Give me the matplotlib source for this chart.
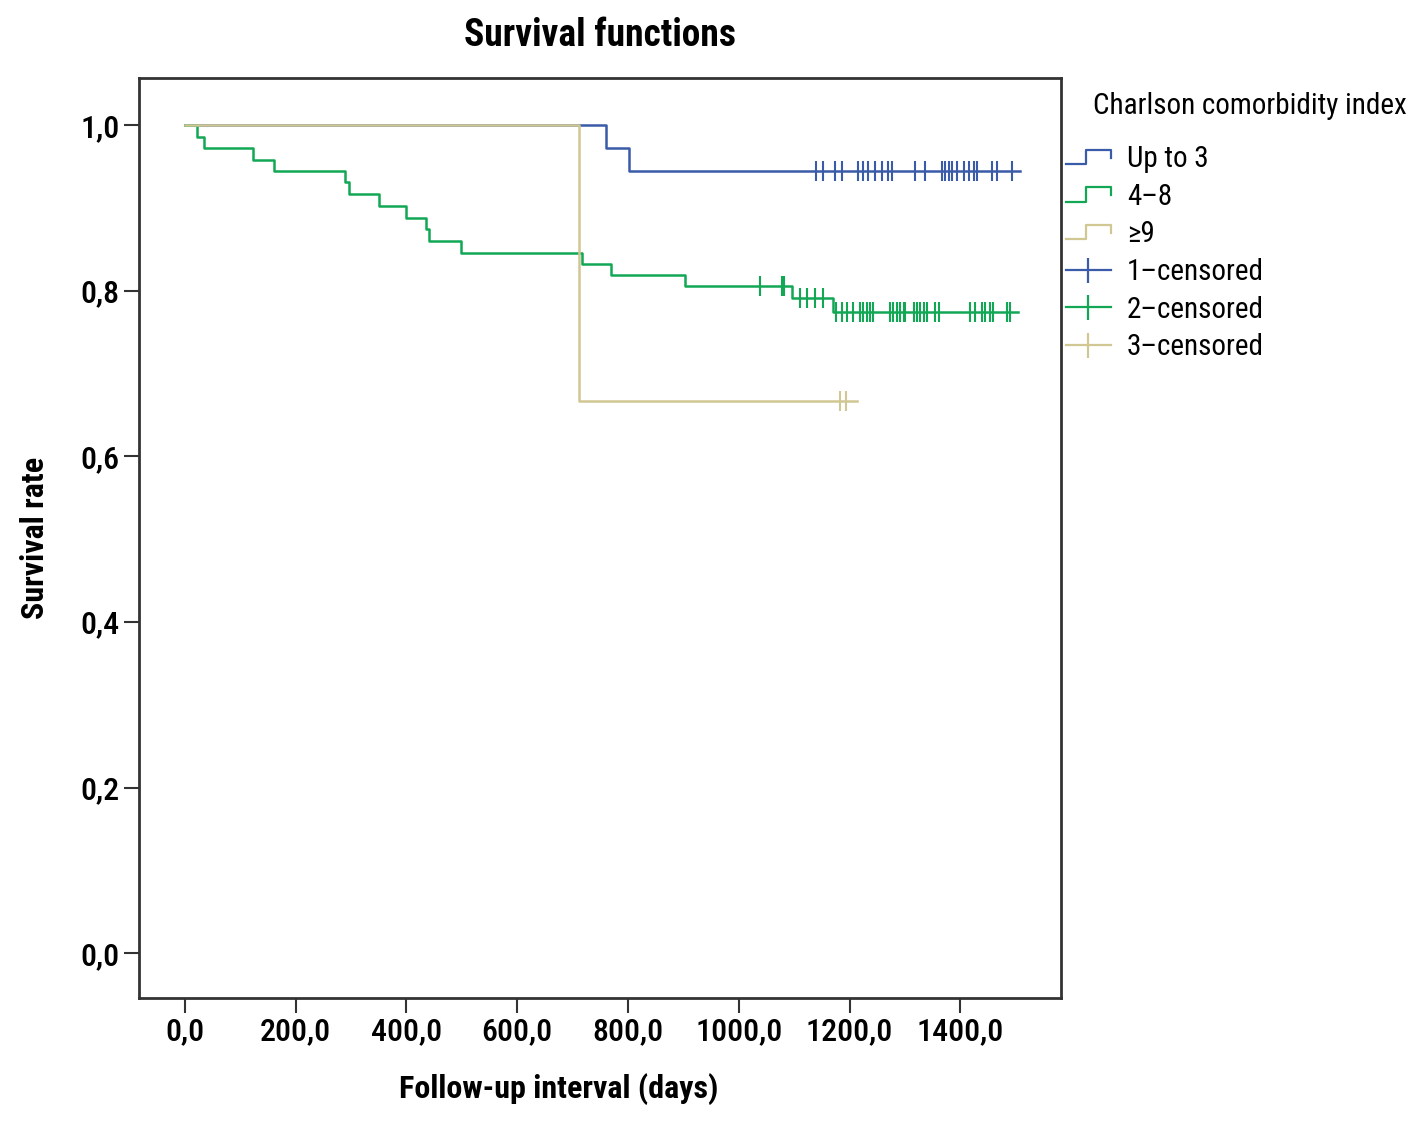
import matplotlib
matplotlib.use("Agg")
import matplotlib.pyplot as plt
from matplotlib.legend_handler import HandlerBase
from matplotlib.lines import Line2D
from matplotlib.ticker import FuncFormatter

# Kaplan-Meier steps: (day of event, survival after the event)
low_times = [713, 760, 802]
low_surv = [1.0, 0.973, 0.945]
low_end = 1508
low_cens = [1140, 1153, 1174, 1186, 1216, 1225, 1234, 1246, 1258, 1270, 1276,
            1319, 1337, 1367, 1373, 1379, 1385, 1394, 1406, 1415, 1424, 1430,
            1457, 1466, 1493]

mid_times = [22, 34, 123, 161, 289, 297, 350, 399, 436, 440, 498, 717, 769,
             903, 1097, 1170]
mid_surv = [0.986, 0.972, 0.958, 0.945, 0.932, 0.917, 0.902, 0.888, 0.875,
            0.860, 0.846, 0.833, 0.819, 0.806, 0.791, 0.775]
mid_end = 1505
mid_cens = [1039, 1078, 1082, 1111, 1123, 1138, 1153, 1176, 1186, 1196, 1207,
            1219, 1225, 1231, 1237, 1243, 1273, 1279, 1285, 1292, 1298, 1301,
            1316, 1322, 1328, 1334, 1340, 1355, 1361, 1418, 1427, 1439, 1445,
            1454, 1460, 1484, 1490]

high_times = [711]
high_surv = [0.667]
high_end = 1213
high_cens = [1183, 1194]

groups = ["Up to 3", "4\u20138", "\u22659"]
cens_labels = ["1\u2013censored", "2\u2013censored", "3\u2013censored"]
colors = ["#3a5ba8", "#12a755", "#d0c792"]

font = ["Roboto Condensed", "DejaVu Sans"]
plt.rcParams["font.family"] = font


def km_path(times, surv, end):
    xs, ys = [0.0], [1.0]
    cur = 1.0
    for t, s in zip(times, surv):
        xs += [t, t]
        ys += [cur, s]
        cur = s
    xs.append(end)
    ys.append(cur)
    return xs, ys


def level_at(times, surv, t):
    cur = 1.0
    for tt, s in zip(times, surv):
        if tt <= t:
            cur = s
    return cur


class StepHandler(HandlerBase):
    # little step symbol like the SPSS legend
    def create_artists(self, legend, orig_handle, xdescent, ydescent,
                       width, height, fontsize, trans):
        x0, y0 = -xdescent, -ydescent
        w, h = width, height
        xs = [x0, x0 + 0.45 * w, x0 + 0.45 * w, x0 + w, x0 + w]
        ys = [y0 + 0.15 * h, y0 + 0.15 * h, y0 + 0.85 * h, y0 + 0.85 * h, y0 + 0.45 * h]
        ln = Line2D(xs, ys, color=orig_handle.get_color(), lw=1.6, transform=trans)
        return [ln]


fig = plt.figure(figsize=(14.17, 11.34), dpi=100)
ax = fig.add_axes([0.0981, 0.1199, 0.6507, 0.8113])

data = [(low_times, low_surv, low_end, low_cens),
        (mid_times, mid_surv, mid_end, mid_cens),
        (high_times, high_surv, high_end, high_cens)]

step_handles = []
cens_handles = []
for (times, surv, end, cens), col, name in zip(data, colors, groups):
    xs, ys = km_path(times, surv, end)
    ln, = ax.plot(xs, ys, color=col, lw=1.8, label=name)
    step_handles.append(ln)
for (times, surv, end, cens), col in zip(data, colors):
    cy = [level_at(times, surv, c) for c in cens]
    ax.plot(cens, cy, ls="none", marker="|", ms=14, mew=1.5, color=col)
    cens_handles.append(Line2D([], [], color=col, lw=1.6, marker="|", ms=18, mew=1.6))

ax.set_xlim(-83, 1582)
ax.set_ylim(-0.054, 1.057)
ax.set_xticks([0, 200, 400, 600, 800, 1000, 1200, 1400])
ax.set_yticks([0, 0.2, 0.4, 0.6, 0.8, 1.0])
ax.xaxis.set_major_formatter(FuncFormatter(lambda v, p: f"{v:.1f}".replace(".", ",")))
ax.yaxis.set_major_formatter(FuncFormatter(lambda v, p: f"{v:.1f}".replace(".", ",")))
ax.tick_params(labelsize=23, length=11, width=1.5, color="#333333", pad=3)
for lab in ax.get_xticklabels() + ax.get_yticklabels():
    lab.set_fontweight("medium")
for sp in ax.spines.values():
    sp.set_linewidth(2)
    sp.set_color("#333333")

ax.set_xlabel("Follow-up interval (days)", fontsize=23, fontweight="bold")
ax.xaxis.set_label_coords(0.455, -0.082)
ax.set_ylabel("Survival rate", fontsize=23, fontweight="bold")
ax.yaxis.set_label_coords(-0.096, 0.5)
fig.text(0.4235, 0.969, "Survival functions", fontsize=27, fontweight="bold",
         ha="center", va="center")

fig.text(1093 / 1417, 1 - 106 / 1134, "Charlson comorbidity index", fontsize=21,
         ha="left", va="center")

handles = step_handles + cens_handles
labels = groups + cens_labels
hmap = {h: StepHandler() for h in step_handles}
leg = fig.legend(handles, labels, handler_map=hmap, loc="upper left",
                 bbox_to_anchor=(1066 / 1417, 1 - 145 / 1134), frameon=False,
                 fontsize=21, handlelength=1.54, handleheight=0.7,
                 handletextpad=0.55, labelspacing=0.33, borderaxespad=0,
                 borderpad=0.0)

fig.savefig("out.png", dpi=100)
